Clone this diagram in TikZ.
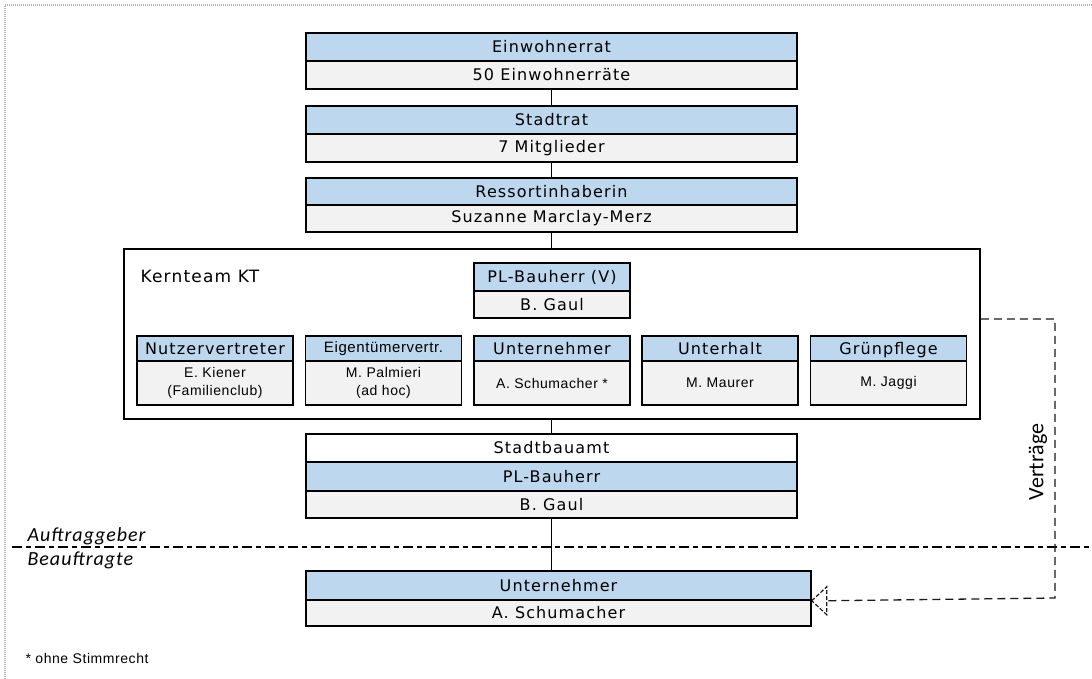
\documentclass[tikz,border=0pt]{standalone}
\usepackage{fontspec}
\setmainfont{DejaVu Sans}[LetterSpace=7]
\newfontfamily\armfont{Liberation Sans}[LetterSpace=4]
\newfontfamily\sidefont{Carlito}[LetterSpace=5]
\newfontfamily\calfont{Carlito}
\definecolor{cellblue}{HTML}{BDD7EE}
\definecolor{cellgray}{HTML}{F2F2F2}
\tikzstyle{cell} = [draw, line width=1.5pt, inner sep=0pt, minimum width=491pt, font=\fontsize{16}{19}\selectfont]
\tikzstyle{headcell} = [cell, fill=cellblue, minimum height=28pt]
\tikzstyle{namecell} = [cell, fill=cellgray, minimum height=28pt]
\tikzstyle{teamcell} = [minimum width=156pt]
\tikzstyle{small} = [font=\armfont\fontsize{14}{18}\selectfont, align=center]
\tikzstyle{link} = [line width=1.6pt]
\tikzstyle{contract} = [line width=1.3pt, black!90, dash pattern=on 8pt off 5pt]

\begin{document}
\begin{tikzpicture}[x=1pt,y=-1pt]
	\useasboundingbox (0,0) rectangle (1092,679);
	\draw[gray!60, line width=2pt, dash pattern=on 1pt off 1pt] (5,679) -- (5,5) -- (1092,5);

	% politische Ebene
	\node[headcell] (einw-h) at (551.5,47) {Einwohnerrat};
	\node[namecell] (einw-n) at (551.5,75) {50 Einwohnerräte};
	\node[headcell] (stadt-h) at (551.5,120) {Stadtrat};
	\node[namecell] (stadt-n) at (551.5,148) {7 Mitglieder};
	\node[headcell, minimum height=27pt] (ress-h) at (551.5,191.5) {Ressortinhaberin};
	\node[namecell, minimum height=27pt] (ress-n) at (551.5,218.5) {Suzanne Marclay-Merz};

	% Kernteam
	\node[draw, line width=1.5pt, minimum width=856pt, minimum height=170pt] (kt) at (552,334) {};
	\node[anchor=west, font=\fontsize{17}{20}\selectfont] (kt-title) at (137,276) {Kernteam KT};
	\node[headcell, teamcell] (plv-h) at (552,277) {PL-Bauherr (V)};
	\node[namecell, teamcell, minimum height=27pt] (plv-n) at (552,304.5) {B. Gaul};

	\node[headcell, teamcell, minimum height=25pt] (nutz-h) at (215,348.5) {Nutzervertreter};
	\node[namecell, teamcell, minimum height=44pt, small] (nutz-n) at (215,383) {E. Kiener\\(Familienclub)};
	\node[headcell, teamcell, minimum height=25pt, font=\armfont\fontsize{15}{18}\selectfont] (eig-h) at (383.5,348.5) {Eigentümervertr.};
	\node[namecell, teamcell, minimum height=44pt, small] (eig-n) at (383.5,383) {M. Palmieri\\(ad hoc)};
	\node[headcell, teamcell, minimum height=25pt] (unt-h) at (552,348.5) {Unternehmer};
	\node[namecell, teamcell, minimum height=44pt, small] (unt-n) at (552,383) {A. Schumacher *};
	\node[headcell, teamcell, minimum height=25pt] (uh-h) at (720,348.5) {Unterhalt};
	\node[namecell, teamcell, minimum height=44pt, small] (uh-n) at (720,383) {M. Maurer};
	\node[headcell, teamcell, minimum height=25pt, text depth=1pt] (gp-h) at (888.5,348.5) {Grünpflege};
	\node[namecell, teamcell, minimum height=44pt, small] (gp-n) at (888.5,383) {M. Jaggi};

	% Stadtbauamt
	\node[cell, fill=white, minimum height=28pt] (sba-t) at (551.5,448) {Stadtbauamt};
	\node[headcell, minimum height=29pt] (sba-h) at (551.5,476.5) {PL-Bauherr};
	\node[namecell, minimum height=27pt] (sba-n) at (551.5,504.5) {B. Gaul};

	% Beauftragte
	\node[headcell, minimum width=505pt, minimum height=29pt] (bunt-h) at (558.5,585.5) {Unternehmer};
	\node[namecell, minimum width=505pt, minimum height=26pt] (bunt-n) at (558.5,613) {A. Schumacher};

	\draw[link, dash pattern=on 10pt off 4pt on 5pt off 4pt] (12,547) -- (1092,547);
	\node[anchor=base west, font=\sidefont\itshape\fontsize{20}{24}\selectfont] (ag) at (24,541) {Auftraggeber};
	\node[anchor=base west, font=\sidefont\itshape\fontsize{20}{24}\selectfont] (bf) at (24,565) {Beauftragte};

	\draw[link] (einw-n) -- (stadt-h);
	\draw[link] (stadt-n) -- (ress-h);
	\draw[link] (ress-n.south) -- (ress-n.south |- kt.north);
	\draw[link] (sba-t.north |- kt.south) -- (sba-t.north);
	\draw[link] (sba-n.south) -- (sba-n.south |- bunt-h.north);

	% Vertraege
	\coordinate (vtr) at (1055,598);
	\coordinate (vtr-tip) at ([xshift=15pt]bunt-h.south east);
	\draw[contract] ([yshift=15pt]kt.east) -| (vtr) -- (vtr-tip);
	\draw[contract, line width=1.2pt, dash pattern=on 4pt off 2pt] (bunt-h.south east) -- ([yshift=14pt]vtr-tip) -- ([yshift=-14pt]vtr-tip) -- cycle;
	\node[font=\calfont\fontsize{22}{26}\selectfont, rotate=90] (vtr-label) at (1038,462) {Verträge};

	\node[anchor=base west, font=\armfont\fontsize{14}{17}\selectfont] (fn) at (22,663) {* ohne Stimmrecht};
\end{tikzpicture}
\end{document}
